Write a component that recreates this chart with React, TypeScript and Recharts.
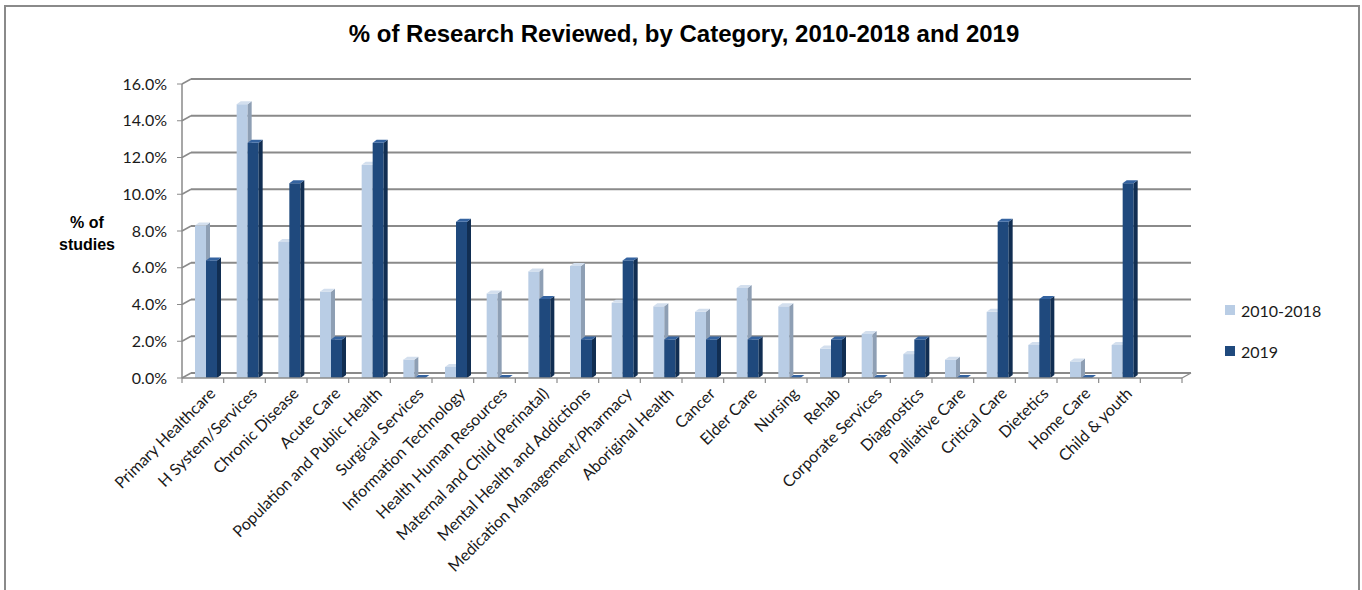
import React from 'react';
import { BarChart, Bar, XAxis, YAxis, CartesianGrid } from 'recharts';

const categories = [
    'Primary Healthcare', 'H System/Services', 'Chronic Disease', 'Acute Care',
    'Population and Public Health', 'Surgical Services', 'Information Technology',
    'Health Human Resources', 'Maternal and Child (Perinatal)', 'Mental Health and Addictions',
    'Medication Management/Pharmacy', 'Aboriginal Health', 'Cancer', 'Elder Care', 'Nursing',
    'Rehab', 'Corporate Services', 'Diagnostics', 'Palliative Care', 'Critical Care',
    'Dietetics', 'Home Care', 'Child & youth', ''
];

const share2010to2018 = [
    8.3, 14.9, 7.4, 4.7, 11.6, 1.0, 0.6, 4.6, 5.8, 6.1, 4.1, 3.9,
    3.6, 4.9, 3.9, 1.6, 2.4, 1.3, 1.0, 3.6, 1.8, 0.9, 1.8, null
];

const share2019 = [
    6.4, 12.8, 10.6, 2.1, 12.8, 0, 8.5, 0, 4.3, 2.1, 6.4, 2.1,
    2.1, 2.1, 0, 2.1, 0, 2.1, 0, 8.5, 4.3, 0, 10.6, null
];

const yTicks = [0, 2, 4, 6, 8, 10, 12, 14, 16];

const seriesNames = ['2010-2018', '2019'];

const data = categories.map((name, i) => ({
    name,
    early: share2010to2018[i],
    recent: share2019[i]
}));

const LIGHT = { front: '#B9CDE5', side: '#8E9FB4', top: '#D3DFEE' };
const DARK = { front: '#1F497D', side: '#112E52', top: '#3463A0' };

const GRID = '#8A8A8A';
const FONT = 'Lato, "Open Sans", sans-serif';

// back wall offset for the fake 3d look
const WALL_DX = 9;
const WALL_DY = 5;
const SLOT = 1000 / categories.length;

const Bar3D = ({ x, y, width, height, colors }: any) => {
    if (x == null || y == null) return null;
    const d = 4;
    const up = 3;
    const bx = x + 3;
    const h = Math.max(height, 0);
    return (
        <g>
            {h > 0 && <rect x={bx} y={y} width={width} height={h} fill={colors.front} />}
            {h > 0 && (
                <polygon
                    points={`${bx + width},${y} ${bx + width + d},${y - up} ${bx + width + d},${y + h - up} ${bx + width},${y + h}`}
                    fill={colors.side}
                />
            )}
            <polygon
                points={`${bx},${y} ${bx + d},${y - up} ${bx + width + d},${y - up} ${bx + width},${y}`}
                fill={colors.top}
            />
        </g>
    );
};

const gridLine = (props: any) => {
    const { x1, x2, y1, index } = props;
    const bottom = Math.abs(y1 - 378) < 1;
    return (
        <g key={`grid-${index}-${y1}`}>
            <line x1={x1} y1={y1} x2={x1 + WALL_DX} y2={y1 - WALL_DY} stroke={GRID} strokeWidth={1.5} />
            <line x1={x1 + WALL_DX} y1={y1 - WALL_DY} x2={x2 + WALL_DX} y2={y1 - WALL_DY} stroke={GRID} strokeWidth={1.8} />
            {bottom && (
                <line x1={x2} y1={y1} x2={x2 + WALL_DX} y2={y1 - WALL_DY} stroke={GRID} strokeWidth={1.3} />
            )}
        </g>
    );
};

const CategoryTick = ({ x, y, payload, index }: any) => {
    const last = index === categories.length - 1;
    return (
        <g>
            <line x1={x - SLOT / 2} y1={y - 8} x2={x - SLOT / 2} y2={y - 3} stroke={GRID} strokeWidth={1.2} />
            {last && <line x1={x + SLOT / 2} y1={y - 8} x2={x + SLOT / 2} y2={y - 3} stroke={GRID} strokeWidth={1.2} />}
            <text
                transform={`translate(${x + 9},${y + 4}) rotate(-45)`}
                textAnchor="end"
                dominantBaseline="central"
                fontSize={16}
                fontFamily={FONT}
                fill="#1a1a1a"
            >
                {payload.value}
            </text>
        </g>
    );
};

export default function App() {
    const legendColors = [LIGHT.front, DARK.front];
    return (
        <div style={{ position: 'absolute', left: 0, top: 0, width: 1362, height: 590, overflow: 'hidden', background: '#fff' }}>
            <div
                style={{
                    position: 'absolute', left: 4, top: 5, width: 1356, height: 620,
                    border: '2px solid #8a8a8a', boxSizing: 'border-box'
                }}
            />
            <div
                style={{
                    position: 'absolute', left: 0, width: 1368, top: 20, textAlign: 'center',
                    fontFamily: '"Liberation Sans", Arial, sans-serif', fontWeight: 'bold', fontSize: 24
                }}
            >
                % of Research Reviewed, by Category, 2010-2018 and 2019
            </div>
            <div
                style={{
                    position: 'absolute', left: 46, width: 82, top: 212, textAlign: 'center', lineHeight: '22px',
                    fontFamily: '"Liberation Sans", Arial, sans-serif', fontWeight: 'bold', fontSize: 16
                }}
            >
                % of<br />studies
            </div>
            <div style={{ position: 'absolute', left: 1225, top: 300, fontFamily: FONT, fontSize: 16, color: '#1a1a1a' }}>
                {seriesNames.map((label, i) => (
                    <div key={label} style={{ display: 'flex', alignItems: 'center', height: 20, marginTop: i ? 21 : 0 }}>
                        <span style={{ width: 10, height: 10, background: legendColors[i], marginRight: 6, display: 'inline-block' }} />
                        {label}
                    </div>
                ))}
            </div>
            <BarChart
                width={1362}
                height={590}
                data={data}
                margin={{ top: 84, right: 180, bottom: 0, left: 122 }}
                barSize={11}
                barGap={0}
                style={{ position: 'absolute', left: 0, top: 0 }}
            >
                <CartesianGrid vertical={false} horizontal={gridLine} />
                <XAxis
                    dataKey="name"
                    interval={0}
                    height={212}
                    tickLine={false}
                    axisLine={{ stroke: GRID, strokeWidth: 1.5 }}
                    tick={<CategoryTick />}
                />
                <YAxis
                    width={60}
                    domain={[0, 16]}
                    ticks={yTicks}
                    interval={0}
                    tickSize={5}
                    tickLine={{ stroke: GRID }}
                    axisLine={{ stroke: GRID, strokeWidth: 1.5 }}
                    tickFormatter={(v: number) => `${v.toFixed(1)}%`}
                    tick={{ fontSize: 16, fontFamily: FONT, fill: '#1a1a1a', dx: -8 }}
                />
                <Bar
                    dataKey="early"
                    name={seriesNames[0]}
                    fill={LIGHT.front}
                    isAnimationActive={false}
                    shape={(p: any) => <Bar3D {...p} colors={LIGHT} />}
                />
                <Bar
                    dataKey="recent"
                    name={seriesNames[1]}
                    fill={DARK.front}
                    isAnimationActive={false}
                    shape={(p: any) => <Bar3D {...p} colors={DARK} />}
                />
            </BarChart>
        </div>
    );
}
